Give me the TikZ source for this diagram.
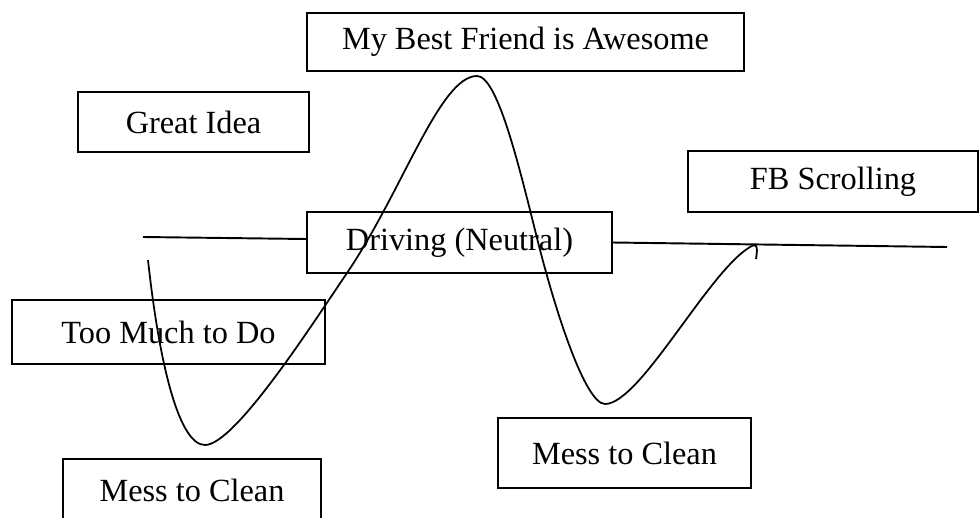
\documentclass[tikz,border=0pt]{standalone}
\usepackage{fontspec}
\setmainfont{Liberation Serif}
\begin{document}
\begin{tikzpicture}[x=0.02cm,y=-0.02cm,
                box/.style={draw,line width=1.1pt,inner sep=0pt,font=\fontsize{18.4}{22}\selectfont},
                baseline/.style={line width=1.1pt},
                mood/.style={line width=1pt}]
                \useasboundingbox (0,0) rectangle (979,517);
                \node[box,minimum width=8.74cm,minimum height=1.16cm] (friend) at (525.5,42) {My Best Friend is Awesome};
                \node[box,minimum width=4.62cm,minimum height=1.2cm] (idea) at (193.5,122) {Great Idea};
                \node[box,minimum width=5.8cm,minimum height=1.22cm] (fb) at (833,181.5) {FB Scrolling};
                \node[box,minimum width=6.1cm,minimum height=1.22cm] (driving) at (459.5,242.5) {Driving (Neutral)};
                \node[box,minimum width=6.26cm,minimum height=1.28cm] (toomuch) at (168.5,332) {Too Much to Do};
                \node[box,minimum width=5.16cm,minimum height=1.24cm] (messl) at (192,490) {Mess to Clean};
                \node[box,minimum width=5.06cm,minimum height=1.4cm] (messr) at (624.5,453) {Mess to Clean};
                \coordinate (lstart) at (143,237);
                \coordinate (rend) at (947,247);
                \draw[baseline] (lstart) -- ([yshift=0.07cm]driving.west);
                \draw[baseline] (driving.east) -- (rend);
                \draw[mood] (148,260) .. controls (160,370) and (180,445) .. (205,445)
                    .. controls (235,445) and (313,323) .. (347,273)
                    .. controls (403,190) and (440,76) .. (477,76)
                    .. controls (497,76) and (518,162) .. (535,230)
                    .. controls (554,308) and (585,404) .. (605,404)
                    .. controls (640,404) and (708,272) .. (750,247)
                    .. controls (759,241) and (757,252) .. (756,259);
            \end{tikzpicture}
\end{document}
